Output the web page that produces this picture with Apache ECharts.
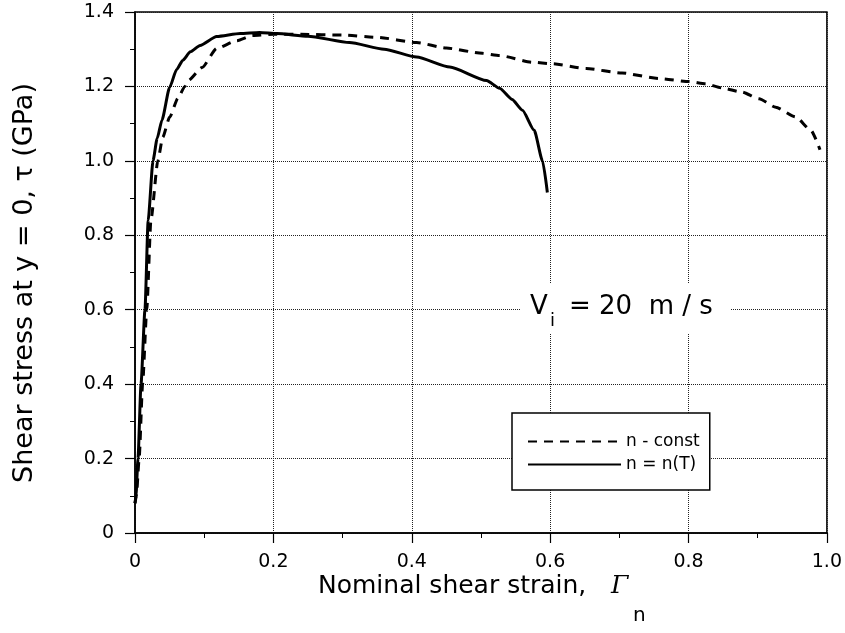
<!DOCTYPE html>
<html>
<head>
<meta charset="utf-8">
<script src="https://cdn.jsdelivr.net/npm/echarts@6/dist/echarts.min.js"></script>
<style>
html,body{margin:0;padding:0;background:#fff;}
#chart{width:845px;height:633px;}
</style>
</head>
<body>
<div id="chart"></div>
<script>
// Nominal shear strain values and shear stress (GPa)
var strainConst = [0, 0.002, 0.006, 0.011, 0.017, 0.023, 0.033, 0.04, 0.05, 0.062, 0.072, 0.077, 0.097, 0.118, 0.147, 0.17, 0.2, 0.24, 0.3, 0.35, 0.407, 0.45, 0.502, 0.527, 0.574, 0.603, 0.652, 0.704, 0.758, 0.801, 0.825, 0.848, 0.877, 0.902, 0.926, 0.955, 0.977, 0.99];
var stressConst = [0.08, 0.1, 0.2, 0.4, 0.6, 0.84, 1.0, 1.063, 1.117, 1.168, 1.2, 1.216, 1.251, 1.302, 1.323, 1.337, 1.34, 1.34, 1.338, 1.332, 1.318, 1.303, 1.289, 1.283, 1.265, 1.261, 1.248, 1.236, 1.221, 1.213, 1.207, 1.196, 1.185, 1.167, 1.144, 1.118, 1.082, 1.03];
var strainT = [0, 0.0014, 0.0043, 0.0087, 0.0144, 0.019, 0.026, 0.032, 0.039, 0.05, 0.06, 0.069, 0.08, 0.094, 0.118, 0.152, 0.18, 0.205, 0.25, 0.31, 0.36, 0.407, 0.455, 0.508, 0.527, 0.545, 0.56, 0.577, 0.589, 0.596];
var stressT = [0.08, 0.1, 0.2, 0.4, 0.6, 0.84, 1.0, 1.06, 1.11, 1.197, 1.245, 1.27, 1.293, 1.31, 1.334, 1.342, 1.345, 1.342, 1.335, 1.318, 1.3, 1.279, 1.252, 1.216, 1.195, 1.165, 1.136, 1.082, 1.0, 0.915];
var seriesNames = ['n - const', 'n = n(T)'];
var xTicks = [0, 0.2, 0.4, 0.6, 0.8, 1.0];
var yTicks = [0, 0.2, 0.4, 0.6, 0.8, 1.0, 1.2, 1.4];

function zip(a, b) { return a.map(function (v, i) { return [v, b[i]]; }); }
var FONT = 'DejaVu Sans';
function fmt(v) { return v === 0 ? '0' : v.toFixed(1); }

var chart = echarts.init(document.getElementById('chart'), null, {renderer: 'canvas'});
chart.setOption({
  backgroundColor: '#fff',
  animation: false,
  grid: {left: 135, right: 16, top: 12, bottom: 100, show: true, borderColor: '#000', borderWidth: 1.5},
  xAxis: {
    type: 'value', min: xTicks[0], max: xTicks[xTicks.length - 1], interval: 0.2,
    axisLine: {lineStyle: {color: '#000', width: 1.5}},
    axisTick: {length: 10, lineStyle: {color: '#000', width: 1.2}},
    minorTick: {show: true, splitNumber: 2, length: 5, lineStyle: {color: '#000', width: 1}},
    splitLine: {lineStyle: {type: 'dotted', color: '#222', width: 1}},
    axisLabel: {formatter: fmt, color: '#000', fontFamily: FONT, fontSize: 19, margin: 20}
  },
  yAxis: {
    type: 'value', min: yTicks[0], max: yTicks[yTicks.length - 1], interval: 0.2,
    axisLine: {lineStyle: {color: '#000', width: 1.5}},
    axisTick: {length: 10, lineStyle: {color: '#000', width: 1.2}},
    minorTick: {show: true, splitNumber: 2, length: 5, lineStyle: {color: '#000', width: 1}},
    splitLine: {lineStyle: {type: 'dotted', color: '#222', width: 1}},
    axisLabel: {formatter: fmt, color: '#000', fontFamily: FONT, fontSize: 19, margin: 21}
  },
  legend: {
    orient: 'vertical', left: 512, top: 413,
    padding: [20, 10, 17, 15], itemGap: 6, itemWidth: 93, itemHeight: 16,
    backgroundColor: '#fff', borderColor: '#000', borderWidth: 1.5, borderRadius: 0,
    textStyle: {color: '#000', fontFamily: FONT, fontSize: 17},
    itemStyle: {opacity: 0},
    data: seriesNames, z: 10
  },
  series: [
    {
      name: seriesNames[0], type: 'line', data: zip(strainConst, stressConst),
      showSymbol: false, symbol: 'none', smooth: 0.2, smoothMonotone: 'x',
      lineStyle: {color: '#000', width: 3, type: [9, 7]}, itemStyle: {color: '#000'}, z: 3
    },
    {
      name: seriesNames[1], type: 'line', data: zip(strainT, stressT),
      showSymbol: false, symbol: 'none', smooth: 0.2, smoothMonotone: 'x',
      lineStyle: {color: '#000', width: 3}, itemStyle: {color: '#000'}, z: 4
    }
  ],
  graphic: [
    {type: 'rect', z: 50, shape: {x: 520, y: 283, width: 210, height: 50}, style: {fill: '#fff'}},
    {type: 'text', z: 51, x: 530, y: 307, style: {text: 'V', font: '26px "DejaVu Sans"', fill: '#000', textAlign: 'left', textVerticalAlign: 'middle'}},
    {type: 'text', z: 51, x: 550, y: 321, style: {text: 'i', font: '18px "DejaVu Sans"', fill: '#000', textAlign: 'left', textVerticalAlign: 'middle'}},
    {type: 'text', z: 51, x: 569, y: 307, style: {text: '= 20  m / s', font: '26px "DejaVu Sans"', fill: '#000', textAlign: 'left', textVerticalAlign: 'middle'}},
    {type: 'text', z: 51, x: 318, y: 586, style: {text: 'Nominal shear strain,', font: '25px "DejaVu Sans"', fill: '#000', textAlign: 'left', textVerticalAlign: 'middle'}},
    {type: 'text', z: 51, x: 611, y: 586, style: {text: 'Γ', font: 'italic 25px "DejaVu Serif"', fill: '#000', textAlign: 'left', textVerticalAlign: 'middle'}},
    {type: 'text', z: 51, x: 633, y: 616, style: {text: 'n', font: '20px "DejaVu Sans"', fill: '#000', textAlign: 'left', textVerticalAlign: 'middle'}},
    {type: 'text', z: 51, x: 25, y: 283, rotation: Math.PI / 2, style: {text: 'Shear stress at y = 0, τ (GPa)', font: '27px "DejaVu Sans"', fill: '#000', textAlign: 'center', textVerticalAlign: 'middle'}}
  ]
});
</script>
</body>
</html>
